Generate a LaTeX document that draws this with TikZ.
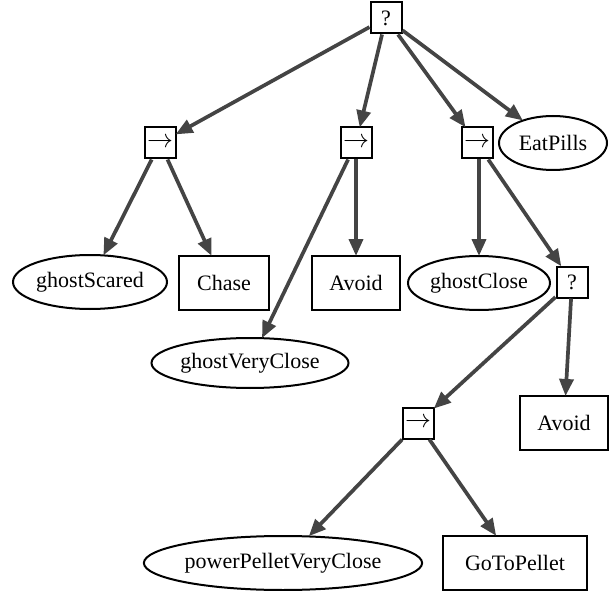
\documentclass[tikz,border=0pt]{standalone}
\usepackage{graphicx}
\usepackage{fontspec}
\setmainfont{Liberation Serif}
\usetikzlibrary{shapes.geometric,arrows.meta}
\definecolor{edgegray}{HTML}{444444}
\newcommand{\seqarrow}{\scalebox{1.25}{$\rightarrow$}}
\begin{document}
\begin{tikzpicture}[x=1pt,y=-1pt,
  every node/.style={font=\fontsize{22}{26}\selectfont, inner sep=0pt},
  ctrl/.style={draw=black, line width=2pt, minimum width=31pt, minimum height=31pt},
  leaf/.style={draw=black, line width=2pt, rectangle, minimum height=54pt},
  cond/.style={draw=black, line width=2pt, ellipse, minimum height=54pt},
  edge/.style={draw=edgegray, line width=3.7pt, -{Triangle[length=17pt,width=14pt]}, shorten >=-1pt}
]
\useasboundingbox (0,0) rectangle (611,591);
\node[ctrl] (root) at (386,18) {?};
\node[ctrl] (s1) at (160,143) {\seqarrow};
\node[ctrl] (s2) at (356,143) {\seqarrow};
\node[ctrl] (s3) at (477,143) {\seqarrow};
\node[cond, minimum width=108pt] (eat) at (553,143) {EatPills};
\node[cond, minimum width=154pt] (gs) at (90,282) {ghostScared};
\node[leaf, minimum width=90pt] (chase) at (224,283) {Chase};
\node[leaf, minimum width=88pt] (av1) at (356,283) {Avoid};
\node[cond, minimum width=142pt] (gc) at (479,283) {ghostClose};
\node[ctrl] (f2) at (572,282) {?};
\node[cond, minimum width=190pt, minimum height=50pt] (gvc) at (250,363) {ghostVeryClose};
\node[leaf, minimum width=88pt] (av2) at (564,423) {Avoid};
\node[ctrl] (s4) at (418,423) {\seqarrow};
\node[cond, minimum width=260pt] (ppvc) at (283,563) {powerPelletVeryClose};
\node[leaf, minimum width=144pt] (gtp) at (515,563) {GoToPellet};

\draw[edge] (root) -- (s1);
\draw[edge] (root) -- (s2);
\draw[edge] (root) -- (s3);
\draw[edge] (root) -- (eat);
\draw[edge] (s1) -- (gs);
\draw[edge] (s1) -- (chase);
\draw[edge] (s2) -- (gvc);
\draw[edge] (s2) -- (av1);
\draw[edge] (s3.south -| gc.north) -- (gc);
\draw[edge] (s3) -- (f2);
\draw[edge] (f2) -- (s4);
\draw[edge] (f2) -- (av2);
\draw[edge] (s4) -- (ppvc);
\draw[edge] (s4) -- (gtp);
\end{tikzpicture}
\end{document}
